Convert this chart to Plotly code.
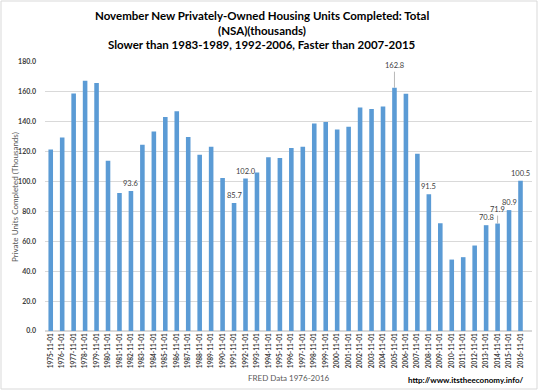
import plotly.graph_objects as go

years = list(range(1975, 2017))
dates = [f"{y}-11-01" for y in years]
values = [121.5, 129.5, 159.0, 167.5, 166.0, 114.0, 92.3, 93.6, 124.6, 133.5,
          143.2, 147.0, 129.8, 117.9, 123.3, 102.3, 85.7, 102.0, 106.0, 116.2,
          115.7, 122.4, 123.3, 138.9, 139.8, 134.9, 136.7, 149.6, 148.5, 150.3,
          162.8, 158.8, 118.6, 91.5, 72.1, 47.8, 49.4, 57.2, 70.8, 71.9,
          80.9, 100.5]
labeled = ["1982-11-01", "1991-11-01", "1992-11-01", "2008-11-01",
           "2013-11-01", "2015-11-01", "2016-11-01"]
leader_labeled = {"2005-11-01": 22, "2014-11-01": 14}
ticks = [0, 20, 40, 60, 80, 100, 120, 140, 160, 180]

W, H = 539, 392
ML, MR, MT, MB = 45, 7, 62, 61
pw, ph = W - ML - MR, H - MT - MB

def px(x):
    return (x - ML) / pw

def py(y):
    return (H - MB - y) / ph

FONT = "Lato"
fig = go.Figure()
fig.add_trace(go.Bar(x=dates, y=values, marker=dict(color="#5B9BD5", line_width=0),
                     hoverinfo="x+y"))

ann = []
for d, v in zip(dates, values):
    if d in labeled:
        ann.append(dict(x=d, y=v, text=f"{v:.1f}", showarrow=False, yanchor="bottom",
                        yshift=1, font=dict(family=FONT, size=7.5, color="#404040")))
    if d in leader_labeled:
        ann.append(dict(x=d, y=v, text=f"{v:.1f}", showarrow=True, arrowhead=0,
                        arrowwidth=0.8, arrowcolor="#A6A6A6", ax=0,
                        ay=-leader_labeled[d], font=dict(family=FONT, size=7.5, color="#404040")))

titles = ["November New Privately-Owned Housing Units Completed: Total",
          "(NSA)(thousands)",
          "Slower than 1983-1989, 1992-2006, Faster than 2007-2015"]
for i, t in enumerate(titles):
    ann.append(dict(xref="paper", yref="paper", x=px(262), y=py(15 + 15 * i), text=t,
                    showarrow=False, xanchor="center", yanchor="middle",
                    font=dict(family=FONT, size=11.5, color="#000000", weight="bold")))
ann.append(dict(xref="paper", yref="paper", x=px(15), y=py(197), text="Private Units Completed (Thousands)",
                textangle=-90, showarrow=False, xanchor="center", yanchor="middle",
                font=dict(family=FONT, size=8, color="#595959")))
ann.append(dict(xref="paper", yref="paper", x=px(289), y=py(378), text="FRED Data 1976-2016",
                showarrow=False, xanchor="center", yanchor="middle",
                font=dict(family=FONT, size=8, color="#595959")))
ann.append(dict(xref="paper", yref="paper", x=px(526), y=py(380), text="http://www.itstheeconomy.info/",
                showarrow=False, xanchor="right", yanchor="middle",
                font=dict(family=FONT, size=8, color="#000000", weight="bold")))

fig.update_layout(
    width=W, height=H,
    margin=dict(l=ML, r=MR, t=MT, b=MB, pad=0),
    paper_bgcolor="white", plot_bgcolor="white",
    bargap=0.6, showlegend=False,
    annotations=ann,
    shapes=[dict(type="rect", xref="paper", yref="paper",
                 x0=px(1), x1=px(537), y0=py(1), y1=py(389),
                 line=dict(color="#D9D9D9", width=1))],
    xaxis=dict(type="category", tickangle=-90, showgrid=False, showline=False,
               ticks="", tickfont=dict(family=FONT, size=6.5, color="#404040", weight="bold")),
    yaxis=dict(range=[0, 180], tickvals=ticks, tickformat=".1f", showgrid=True,
               gridcolor="#D9D9D9", gridwidth=1, zeroline=True, zerolinecolor="#D9D9D9",
               showline=False, ticks="", ticklabelstandoff=8,
               tickfont=dict(family=FONT, size=7, color="#404040", weight="bold")),
)
fig.write_html("out.html", config={"displayModeBar": False},
               post_script="document.body.style.margin='0';document.body.style.overflow='hidden';")
